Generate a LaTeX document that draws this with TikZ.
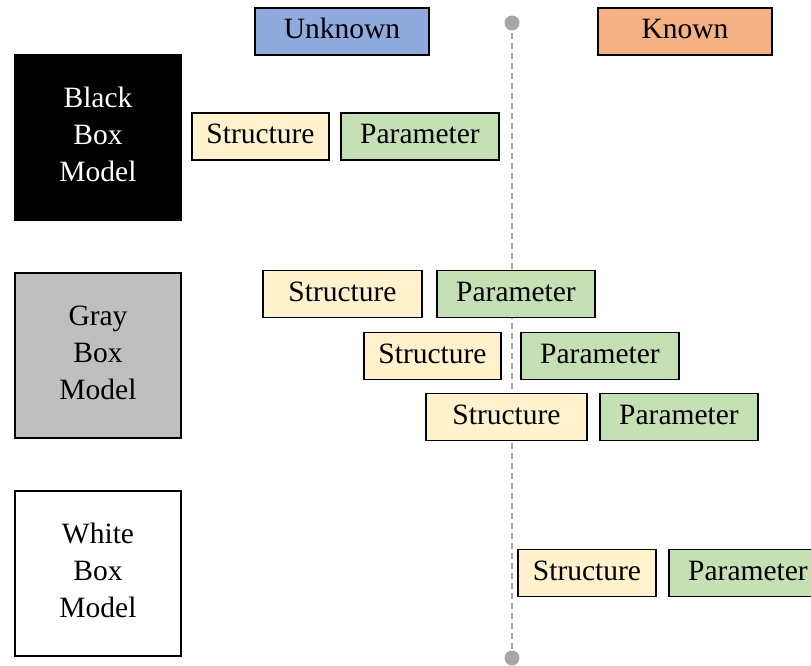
\documentclass[tikz,border=0pt]{standalone}
\usepackage{fontspec}
\setmainfont{Liberation Serif}
\definecolor{unkblue}{HTML}{8FAADC}
\definecolor{knorange}{HTML}{F4B183}
\definecolor{structyellow}{HTML}{FFF2CC}
\definecolor{paramgreen}{HTML}{C5E0B4}
\definecolor{grayfill}{HTML}{BFBFBF}
\definecolor{axisgray}{HTML}{A6A6A6}
\begin{document}
\begin{tikzpicture}[x=1pt,y=-1pt,
  every node/.style={font=\fontsize{29.5}{37}\selectfont, inner sep=0pt, align=center},
  tag/.style={draw=black, line width=1.2pt, minimum height=47pt, text height=20pt, text depth=6pt},
  strbox/.style={tag, fill=structyellow},
  parbox/.style={tag, fill=paramgreen, minimum width=158pt},
  model/.style={draw=black, line width=1.5pt, minimum width=166pt, minimum height=165pt, text depth=6pt}]
\useasboundingbox (0,0) rectangle (811,666);
\clip (0,0) rectangle (811,666);

% header labels
\node[tag, fill=unkblue, minimum width=174pt] (unknown) at (342,31.5) {Unknown};
\node[tag, fill=knorange, minimum width=174pt] (known) at (685,31.5) {Known};

% dividing axis between unknown and known
\coordinate (axtop) at (512,23);
\coordinate (axbot) at (512,658);
\draw[axisgray, line width=1.6pt, dash pattern=on 6pt off 4pt] (axtop) -- (axbot);
\fill[axisgray] (axtop) circle (7.5);
\fill[axisgray] (axbot) circle (7.5);

% model categories
\node[model, fill=black, text=white] (black) at (98,137.5) {Black\\Box\\Model};
\node[model, fill=grayfill] (gray) at (98,355.5) {Gray\\Box\\Model};
\node[model, fill=white] (white) at (98,573.5) {White\\Box\\Model};

% black box: everything unknown
\node[strbox, minimum width=137pt] (s1) at (260.5,136.5) {Structure};
\node[parbox] (p1) at (420,136.5) {Parameter};

% gray box: partially known
\node[strbox, minimum width=159pt] (s2) at (342.5,294) {Structure};
\node[parbox] (p2) at (516,294) {Parameter};
\node[strbox, minimum width=137pt] (s3) at (432.5,356) {Structure};
\node[parbox] (p3) at (600,356) {Parameter};
\node[strbox, minimum width=161pt] (s4) at (506.5,417) {Structure};
\node[parbox] (p4) at (679,417) {Parameter};

% white box: everything known
\node[strbox, minimum width=138pt] (s5) at (587,573) {Structure};
\node[parbox] (p5) at (748,573) {Parameter};
\end{tikzpicture}
\end{document}
